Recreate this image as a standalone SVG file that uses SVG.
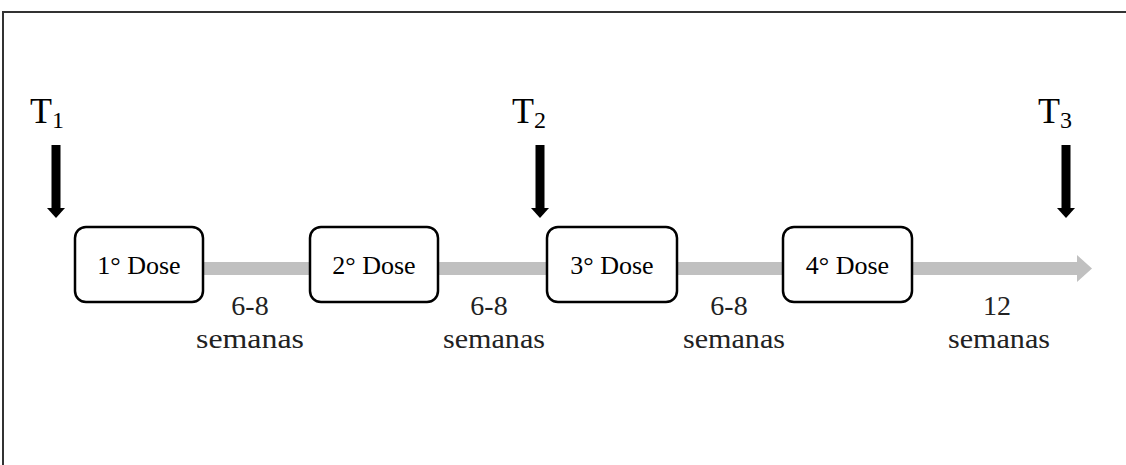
<svg xmlns="http://www.w3.org/2000/svg" width="1126" height="465" viewBox="0 0 1126 465">
<style>
.box{fill:#fff;stroke:#000;stroke-width:2.5}
.t{font-family:"Liberation Serif","Times New Roman",serif;fill:#000}
.bt{font-size:26px;text-anchor:middle}
.lb{font-size:28px;text-anchor:middle;fill:#222}
.T{font-size:36px}
.sub{font-size:24px}
.grey{fill:#c0c0c0}
.blk{fill:#000}
</style>
<rect width="1126" height="465" fill="#fff"/>
<g id="frame" fill="none" stroke="#333" stroke-width="2">
<path d="M3,466 V12 H1127"/>
</g>
<g id="connectors">
<rect class="grey" x="200" y="262" width="880" height="13"/>
<polygon class="grey" points="1077,255 1092,268.5 1077,282"/>
<g id="time-arrows">
<rect class="blk" x="51.5" y="145" width="9" height="65"/>
<polygon class="blk" points="47,208 65,208 56,218"/>
<rect class="blk" x="535.5" y="145" width="9" height="65"/>
<polygon class="blk" points="531,208 549,208 540,218"/>
<rect class="blk" x="1061.5" y="145" width="9" height="65"/>
<polygon class="blk" points="1057,208 1075,208 1066,218"/>
</g>
</g>
<g id="T1"><text class="t T" x="30" y="123">T<tspan class="sub" dy="5">1</tspan></text></g>
<g id="T2"><text class="t T" x="512" y="123">T<tspan class="sub" dy="5">2</tspan></text></g>
<g id="T3"><text class="t T" x="1038" y="123">T<tspan class="sub" dy="5">3</tspan></text></g>
<g id="dose1"><rect class="box" x="75" y="227" width="128" height="75" rx="11"/><text class="t bt" x="139" y="274">1° Dose</text></g>
<g id="dose2"><rect class="box" x="310" y="227" width="128" height="75" rx="11"/><text class="t bt" x="374" y="274">2° Dose</text></g>
<g id="dose3"><rect class="box" x="547" y="227" width="130" height="75" rx="11"/><text class="t bt" x="612" y="274">3° Dose</text></g>
<g id="dose4"><rect class="box" x="783" y="227" width="129" height="75" rx="11"/><text class="t bt" x="847.5" y="274">4° Dose</text></g>
<g id="label1"><text class="t lb" x="250" y="315">6-8</text><text class="t lb" x="250" y="348" textLength="108" lengthAdjust="spacingAndGlyphs">semanas</text></g>
<g id="label2"><text class="t lb" x="489" y="315">6-8</text><text class="t lb" x="494" y="348" textLength="102" lengthAdjust="spacingAndGlyphs">semanas</text></g>
<g id="label3"><text class="t lb" x="729" y="315">6-8</text><text class="t lb" x="734" y="348" textLength="102" lengthAdjust="spacingAndGlyphs">semanas</text></g>
<g id="label4"><text class="t lb" x="997" y="315">12</text><text class="t lb" x="999" y="348" textLength="102" lengthAdjust="spacingAndGlyphs">semanas</text></g>
</svg>
